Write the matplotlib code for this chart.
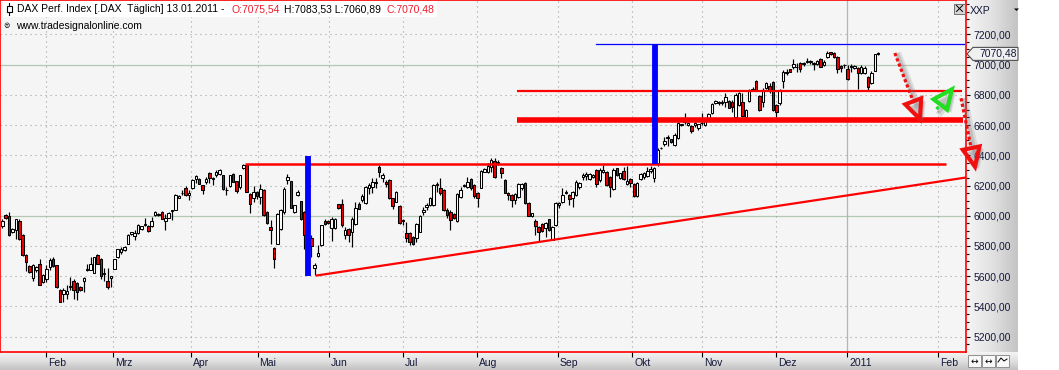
import matplotlib
matplotlib.use("Agg")
import matplotlib.pyplot as plt
import numpy as np
from matplotlib.patches import Polygon, Rectangle
from matplotlib.lines import Line2D
from matplotlib.transforms import IdentityTransform, ScaledTranslation
from matplotlib.colors import LinearSegmentedColormap

plt.rcParams['font.family'] = ['Liberation Sans', 'DejaVu Sans']

W, H, DPI = 1059, 370, 100

# daily candles, 13.01.2010 - 13.01.2011
opens = [
    5929, 6002, 5996, 5892, 5903, 5963, 5874, 5738, 5665, 5588,
    5638, 5682, 5561, 5583, 5660, 5716, 5671, 5510, 5484, 5484,
    5528, 5568, 5555, 5528, 5568, 5638, 5643, 5621, 5742, 5716,
    5616, 5566, 5590, 5649, 5727, 5757, 5771, 5815, 5877, 5863,
    5885, 5912, 5938, 5932, 5929, 6002, 6002, 6026, 5963, 5987,
    6031, 6040, 6119, 6148, 6183, 6139, 6185, 6243, 6245, 6201,
    6223, 6284, 6243, 6267, 6273, 6267, 6168, 6194, 6278, 6227,
    6190, 6318, 6333, 6146, 6119, 6157, 6123, 6172, 6024, 5925,
    5788, 5815, 5914, 6024, 6238, 6227, 6024, 6139, 6095, 6024,
    5870, 5855, 5656, 5731, 5804, 5963, 5965, 5921, 5921, 6075,
    6079, 5870, 5914, 5892, 5947, 6079, 6106, 6086, 6186, 6192,
    6214, 6324, 6247, 6225, 6236, 6115, 6093, 6067, 5972, 5883,
    5883, 5861, 5850, 5895, 6027, 6060, 6071, 6071, 6203, 6186,
    6170, 6038, 6027, 6012, 5965, 6126, 6203, 6192, 6241, 6203,
    6148, 6186, 6291, 6287, 6325, 6362, 6357, 6318, 6236, 6148,
    6137, 6104, 6126, 6181, 6219, 6086, 6000, 5965, 5928, 5943,
    5916, 5976, 5839, 5936, 6071, 6093, 6148, 6137, 6115, 6137,
    6188, 6258, 6263, 6241, 6254, 6302, 6236, 6291, 6291, 6258,
    6175, 6313, 6247, 6296, 6210, 6245, 6210, 6130, 6241, 6258,
    6263, 6298, 6247, 6346, 6450, 6474, 6512, 6505, 6468, 6512,
    6600, 6622, 6600, 6593, 6600, 6578, 6611, 6600, 6644, 6677,
    6748, 6743, 6745, 6754, 6759, 6750, 6651, 6732, 6754, 6655,
    6759, 6831, 6891, 6792, 6754, 6842, 6858, 6887, 6732, 6748,
    6893, 6946, 6968, 6986, 6983, 7012, 7006, 7019, 7019, 7012,
    7004, 7034, 6997, 7048, 7081, 7079, 7052, 6990, 6997, 6968,
    6990, 6975, 6975, 6942, 6946, 6920, 6876, 6959, 7075.54]
highs = [
    5980, 6010, 6022, 5920, 5980, 5976, 5880, 5745, 5672, 5682,
    5665, 5716, 5615, 5676, 5722, 5725, 5675, 5515, 5521, 5539,
    5594, 5583, 5560, 5535, 5592, 5682, 5727, 5730, 5748, 5722,
    5656, 5656, 5601, 5715, 5780, 5793, 5800, 5880, 5895, 5903,
    5947, 5935, 5987, 5940, 5991, 6031, 6018, 6030, 6013, 6022,
    6040, 6146, 6135, 6172, 6194, 6168, 6240, 6271, 6250, 6205,
    6256, 6289, 6256, 6300, 6311, 6271, 6190, 6271, 6282, 6232,
    6271, 6344, 6340, 6150, 6194, 6163, 6212, 6176, 6030, 5969,
    5793, 6018, 6046, 6190, 6278, 6232, 6072, 6170, 6100, 6030,
    5880, 5870, 5690, 5804, 5940, 5980, 5975, 5991, 5985, 6080,
    6112, 5925, 5918, 5991, 6090, 6090, 6146, 6200, 6214, 6247,
    6247, 6335, 6280, 6236, 6240, 6120, 6165, 6072, 5980, 5961,
    5890, 5866, 5950, 6005, 6060, 6082, 6124, 6210, 6221, 6247,
    6175, 6049, 6038, 6016, 6148, 6192, 6210, 6258, 6247, 6210,
    6155, 6302, 6315, 6346, 6380, 6384, 6369, 6325, 6240, 6159,
    6142, 6150, 6214, 6214, 6225, 6090, 6020, 5978, 5935, 5950,
    5960, 5980, 5935, 6090, 6093, 6181, 6170, 6142, 6165, 6236,
    6225, 6285, 6287, 6282, 6275, 6307, 6313, 6335, 6296, 6262,
    6313, 6318, 6285, 6324, 6329, 6250, 6215, 6225, 6280, 6291,
    6324, 6329, 6320, 6446, 6455, 6518, 6534, 6510, 6545, 6618,
    6610, 6677, 6618, 6598, 6620, 6610, 6677, 6640, 6677, 6745,
    6768, 6760, 6765, 6810, 6765, 6765, 6814, 6818, 6814, 6705,
    6840, 6850, 6895, 6800, 6842, 6885, 6880, 6891, 6740, 6836,
    6964, 6968, 6972, 7034, 7008, 7019, 7015, 7041, 7030, 7020,
    7030, 7041, 7030, 7090, 7086, 7083, 7056, 6995, 7004, 6995,
    7004, 6997, 6986, 6997, 6990, 6925, 6960, 7072, 7083.53]
lows = [
    5921, 5980, 5863, 5885, 5848, 5837, 5737, 5634, 5620, 5566,
    5630, 5539, 5555, 5561, 5638, 5660, 5525, 5429, 5429, 5451,
    5506, 5447, 5444, 5505, 5495, 5635, 5640, 5618, 5678, 5583,
    5568, 5517, 5528, 5645, 5722, 5749, 5766, 5810, 5873, 5837,
    5881, 5908, 5934, 5895, 5925, 5996, 5998, 5978, 5903, 5983,
    5969, 6035, 6115, 6134, 6128, 6106, 6180, 6216, 6208, 6141,
    6212, 6216, 6201, 6256, 6267, 6170, 6139, 6190, 6220, 6150,
    6179, 6311, 6155, 6018, 6090, 6110, 6079, 5998, 5945, 5815,
    5654, 5810, 5903, 6013, 6212, 6049, 6018, 6130, 5975, 5782,
    5740, 5727, 5608, 5727, 5800, 5936, 5947, 5832, 5915, 6046,
    5925, 5848, 5826, 5793, 5936, 6042, 6090, 6080, 6142, 6148,
    6186, 6258, 6221, 6192, 6110, 6045, 6088, 5945, 5940, 5828,
    5806, 5808, 5828, 5890, 6005, 6038, 6066, 6066, 6159, 6137,
    6032, 5987, 5906, 5980, 5961, 6115, 6192, 6181, 6170, 6115,
    6060, 6181, 6286, 6280, 6291, 6247, 6335, 6247, 6148, 6104,
    6060, 6075, 6115, 6170, 6075, 5995, 5990, 5873, 5828, 5890,
    5861, 5900, 5839, 5930, 6049, 6082, 6142, 6071, 6060, 6130,
    6180, 6236, 6236, 6236, 6250, 6192, 6225, 6280, 6197, 6126,
    6170, 6260, 6240, 6236, 6203, 6188, 6125, 6126, 6236, 6241,
    6258, 6280, 6225, 6329, 6440, 6461, 6461, 6480, 6461, 6505,
    6595, 6610, 6595, 6545, 6590, 6570, 6600, 6595, 6636, 6670,
    6740, 6735, 6732, 6721, 6710, 6688, 6644, 6725, 6655, 6650,
    6755, 6825, 6823, 6695, 6721, 6838, 6810, 6695, 6655, 6732,
    6842, 6931, 6948, 6968, 6953, 6953, 6990, 7012, 7006, 6964,
    7000, 6981, 6990, 7040, 7065, 7045, 6942, 6953, 6980, 6897,
    6953, 6968, 6836, 6938, 6940, 6831, 6870, 6955, 7060.89]
closes = [
    5963, 5985, 5870, 5914, 5976, 5848, 5742, 5694, 5627, 5676,
    5660, 5539, 5610, 5649, 5709, 5665, 5528, 5429, 5506, 5499,
    5537, 5506, 5495, 5510, 5590, 5649, 5678, 5727, 5682, 5601,
    5623, 5528, 5599, 5711, 5777, 5777, 5795, 5874, 5890, 5885,
    5936, 5929, 5943, 5899, 5965, 6022, 6013, 5980, 5987, 6018,
    6035, 6134, 6128, 6152, 6139, 6152, 6238, 6260, 6212, 6172,
    6245, 6249, 6247, 6289, 6300, 6179, 6172, 6267, 6223, 6163,
    6267, 6333, 6157, 6079, 6157, 6128, 6179, 6002, 5951, 5903,
    5716, 6013, 6035, 6179, 6256, 6053, 6068, 6157, 5980, 5870,
    5750, 5797, 5671, 5755, 5936, 5947, 5951, 5980, 5980, 6051,
    5936, 5903, 5870, 5980, 6051, 6046, 6128, 6192, 6203, 6221,
    6225, 6292, 6269, 6208, 6115, 6067, 6159, 5950, 5965, 5855,
    5828, 5813, 5943, 6000, 6038, 6071, 6119, 6203, 6210, 6148,
    6038, 6005, 5972, 5987, 6142, 6170, 6197, 6225, 6181, 6130,
    6119, 6296, 6309, 6331, 6369, 6258, 6346, 6285, 6153, 6137,
    6104, 6144, 6210, 6208, 6082, 6000, 6016, 5934, 5895, 5899,
    5954, 5906, 5928, 6082, 6082, 6137, 6159, 6111, 6159, 6225,
    6219, 6269, 6274, 6276, 6269, 6210, 6302, 6302, 6203, 6188,
    6302, 6269, 6280, 6241, 6232, 6219, 6130, 6219, 6274, 6280,
    6298, 6307, 6313, 6435, 6446, 6494, 6523, 6488, 6534, 6611,
    6604, 6625, 6611, 6560, 6611, 6604, 6614, 6633, 6670, 6739,
    6761, 6754, 6752, 6787, 6715, 6721, 6799, 6810, 6660, 6699,
    6831, 6838, 6827, 6699, 6831, 6880, 6831, 6699, 6688, 6831,
    6953, 6953, 6953, 7004, 6987, 6968, 7008, 7026, 7019, 7006,
    7026, 6981, 7019, 7078, 7070, 7052, 6968, 6975, 6997, 6902,
    6981, 6990, 6942, 6986, 6980, 6854, 6946, 7067, 7070.48]

month_labels = ['Feb', 'Mrz', 'Apr', 'Mai', 'Jun', 'Jul', 'Aug', 'Sep',
                'Okt', 'Nov', 'Dez', '2011', 'Feb']
month_pos = [12.8, 32.5, 55.5, 75.2, 96.2, 117.9, 139.7, 163.7,
             185.5, 206.2, 228.0, 248.9, 275.7]
price_ticks = list(range(5200, 7201, 200))

# drawn lines (bar index / index value)
red_levels = [6343, 6827, 6633]
red_from = [71.5, 151.6, 151.6]
red_to = [277.9, 282.6, 283.0]
blue_level = 7134
blue_from, blue_to = 174.9, 283.3
blue_x = [90.0, 192.2]
blue_lo = [5603, 6343]
blue_hi = [6396, 7134]
trend_x = [92.7, 283.9]
trend_y = [5605, 6253]
arrow_start = [(262.9, 7076), (275.2, 6704), (282.4, 6777)]
arrow_tip = [(270.3, 6639), (279.7, 6836), (286.5, 6324)]
arrow_colors = ['#f01010', '#22dd22', '#f01010']

title = "DAX Perf. Index [.DAX  Täglich] 13.01.2011 - "
last_o, last_h, last_l, last_c = opens[-1], highs[-1], lows[-1], closes[-1]


def fx(px):
    return px / W


def fy(py):
    return 1 - py / H


fig = plt.figure(figsize=(W / DPI, H / DPI), dpi=DPI, facecolor='white')

# grey panels of the axes
band_b = fig.add_axes([0, 0, fx(1018), 18 / H], zorder=0)
band_b.imshow(np.linspace(0, 1, 18).reshape(-1, 1), aspect='auto',
              cmap=LinearSegmentedColormap.from_list('b', ['#f3f3f3', '#e0e0e0', '#c2c2c2']),
              extent=[0, 1, 0, 1])
band_b.axis('off')
band_r = fig.add_axes([fx(966), 18 / H, fx(1018) - fx(966), 352 / H], zorder=0)
band_r.imshow(np.linspace(0, 1, 52).reshape(1, -1), aspect='auto',
              cmap=LinearSegmentedColormap.from_list('r', ['#f5f5f5', '#e2e2e2', '#c4c4c4']),
              extent=[0, 1, 0, 1])
band_r.axis('off')

ax = fig.add_axes([0, 18 / H, fx(966), 352 / H], zorder=2)
ax.set_facecolor('#f5f5f5')
ax.set_xlim(-0.68, 283.86)
ax.set_ylim(5098.8, 7426.9)

# grid
for v in price_ticks:
    if v in (6000, 7000):
        ax.axhline(v, color='#b2c8b2', lw=0.9, zorder=1)
    else:
        ax.axhline(v, color='#a0a0a0', lw=0.8, ls=(0, (1, 3.5)), zorder=1)
for p, lab in zip(month_pos, month_labels):
    if lab == '2011':
        ax.axvline(p, color='#aabcaa', lw=0.9, zorder=1)
    else:
        ax.axvline(p, color='#a0a0a0', lw=0.8, ls=(0, (1, 3.5)), zorder=1)

# candles
o = np.array(opens, float)
h = np.array(highs, float)
l = np.array(lows, float)
c = np.array(closes, float)
x = np.arange(len(c))
up = c >= o
ax.vlines(x, l, h, color='black', lw=0.85, zorder=3)
bottom = np.minimum(o, c)
height = np.maximum(np.abs(c - o), 3)
ax.bar(x[up], height[up], bottom=bottom[up], width=0.74, color='white',
       edgecolor='black', lw=0.75, zorder=4)
ax.bar(x[~up], height[~up], bottom=bottom[~up], width=0.74, color='#ee0000',
       edgecolor='black', lw=0.75, zorder=4)

# support / resistance lines
for lev, a, b, lw in zip(red_levels, red_from, red_to, [1.8, 1.6, 4.0]):
    ax.plot([a, b], [lev, lev], color='#ff0000', lw=lw, solid_capstyle='butt', zorder=5)
ax.plot([blue_from, blue_to], [blue_level, blue_level], color='#0000ff', lw=0.9, zorder=5)
for bx, lo, hi in zip(blue_x, blue_lo, blue_hi):
    ax.plot([bx, bx], [lo, hi], color='#0000ff', lw=4.2, solid_capstyle='butt', zorder=5)
ax.plot(trend_x, trend_y, color='#ff0000', lw=1.6, zorder=5)

# dotted arrows with shadow
ident = IdentityTransform()
for st, tp, col in zip(arrow_start, arrow_tip, arrow_colors):
    p0 = ax.transData.transform(st)
    p1 = ax.transData.transform(tp)
    d = p1 - p0
    u = d / np.hypot(*d)
    n = np.array([-u[1], u[0]])
    base = p1 - u * 19
    for off, alpha, lw in [((4, -3), 0.18, 5.0), ((3, -2), 0.25, 2.8)]:
        of = np.array(off)
        ax.add_line(Line2D([p0[0] + of[0], base[0] + of[0]], [p0[1] + of[1], base[1] + of[1]],
                           transform=ident, color='#707070', alpha=alpha, lw=lw,
                           clip_on=False, zorder=6))
        ax.add_patch(Polygon([base + n * 9 + of, p1 + of, base - n * 9 + of], closed=True,
                             transform=ident, facecolor='#707070', edgecolor='none',
                             alpha=alpha, clip_on=False, zorder=6))
    ax.add_line(Line2D([p0[0], base[0]], [p0[1], base[1]], transform=ident, color=col,
                       lw=2.3, ls=(0, (1, 0.75)), dash_capstyle='butt', clip_on=False, zorder=7))
    ax.add_patch(Polygon([base + n * 8.5, p1, base - n * 8.5], closed=True, transform=ident,
                         facecolor='none', edgecolor=col, lw=3.0, joinstyle='miter',
                         clip_on=False, zorder=7))

# axes, ticks
for s in ax.spines.values():
    s.set_color('#ff0000')
    s.set_linewidth(1.2)
ax.yaxis.tick_right()
ax.set_yticks(price_ticks)
ax.set_yticklabels([f"{v},00" for v in price_ticks])
ax.set_yticks(np.arange(5150, 7401, 50), minor=True)
ax.tick_params(axis='y', which='major', direction='out', length=3, width=0.8,
               color='black', pad=2.5, labelsize=7.5, labelcolor='#14183a')
ax.tick_params(axis='y', which='minor', direction='out', length=1.8, width=0.8, color='black')
ax.set_xticks(month_pos)
ax.set_xticklabels(month_labels, ha='left')
ax.tick_params(axis='x', direction='out', length=3.5, width=0.8, color='black',
               pad=0.5, labelsize=7.5, labelcolor='#14183a')
for t in ax.get_xticklabels():
    t.set_transform(t.get_transform() + ScaledTranslation(2 / DPI, 0, fig.dpi_scale_trans))

# last price marker on the axis
yl = ax.transData.transform((0, last_c))[1]
x1 = ax.bbox.x1
ax.add_patch(Polygon([(x1 + 1, yl), (x1 + 7, yl + 6.5), (x1 + 52, yl + 6.5),
                      (x1 + 52, yl - 6.5), (x1 + 7, yl - 6.5)], closed=True,
                     transform=ident, facecolor='#f0f0f0', edgecolor='#505050',
                     lw=0.8, clip_on=False, zorder=8))
ax.text(x1 + 13, yl, f"{last_c:.2f}".replace('.', ','), transform=ident,
        fontsize=7.5, va='center', ha='left', color='#14183a', zorder=9, clip_on=False)

# title
fig.add_artist(Rectangle((fx(3), fy(17)), fx(434), 16 / H, facecolor='white',
                         edgecolor='none', transform=fig.transFigure, zorder=2.5))
fig.add_artist(Line2D([fx(9), fx(9)], [fy(3), fy(15)], color='black', lw=0.8,
                      transform=fig.transFigure, zorder=3))
fig.add_artist(Rectangle((fx(6.5), fy(12)), fx(5), 6 / H, facecolor='white',
                         edgecolor='black', lw=0.8, transform=fig.transFigure, zorder=3.1))
fs = 7.5
fig.text(fx(17.3), fy(9.5), title, fontsize=fs, va='center', color='black', zorder=3)
fig.text(fx(231), fy(9.5), f"O:{last_o:.2f}".replace('.', ','), fontsize=fs,
         va='center', color='#ee1c2c', zorder=3)
fig.text(fx(284.3), fy(9.5),
         f"H:{last_h:.2f} L:{last_l:.2f}".replace('.', ','), fontsize=fs,
         va='center', color='black', zorder=3)
fig.text(fx(386.7), fy(9.5), f"C:{last_c:.2f}".replace('.', ','), fontsize=fs,
         va='center', color='#ee1c2c', zorder=3)
fig.text(fx(3.5), fy(25.5), "\u229c", fontsize=5.5, va='center', color='black',
         family=['DejaVu Sans'], zorder=3)
fig.text(fx(15.7), fy(26), "www.tradesignalonline.com", fontsize=7.5, va='center',
         color='black', zorder=3)

# right panel decorations
fig.text(fx(970), fy(10.5), "XXP", fontsize=7.5, va='center', color='#14183a', zorder=3)
fig.add_artist(Polygon([(fx(1014), fy(8.5)), (fx(1019), fy(8.5)), (fx(1016.5), fy(11))],
                       closed=True, facecolor='black', transform=fig.transFigure, zorder=3))
fig.add_artist(Rectangle((fx(954), fy(13.5)), fx(11), 9.5 / H, facecolor='#d6d6d6',
                         edgecolor='#707070', lw=0.7, transform=fig.transFigure, zorder=3))
fig.add_artist(Line2D([fx(956.5), fx(962.5)], [fy(5.5), fy(11.5)], color='black', lw=0.7,
                      transform=fig.transFigure, zorder=3.1))
fig.add_artist(Line2D([fx(956.5), fx(962.5)], [fy(11.5), fy(5.5)], color='black', lw=0.7,
                      transform=fig.transFigure, zorder=3.1))
for i, bx in enumerate([968, 982, 996]):
    fig.add_artist(Rectangle((fx(bx), fy(367)), fx(13), 12 / H, facecolor='#f8f8f8',
                             edgecolor='#909090', lw=0.7, transform=fig.transFigure, zorder=3))
    if i < 2:
        fig.text(fx(bx + 6.5), fy(361), "\u2194", fontsize=6.5, ha='center', va='center',
                 family=['DejaVu Sans'], zorder=3.1)
    else:
        fig.add_artist(Line2D([fx(bx + 2), fx(bx + 5), fx(bx + 8), fx(bx + 11)],
                              [fy(362), fy(358), fy(361), fy(359)], color='black', lw=0.7,
                              transform=fig.transFigure, zorder=3.1))

fig.savefig("out.png", dpi=DPI)
